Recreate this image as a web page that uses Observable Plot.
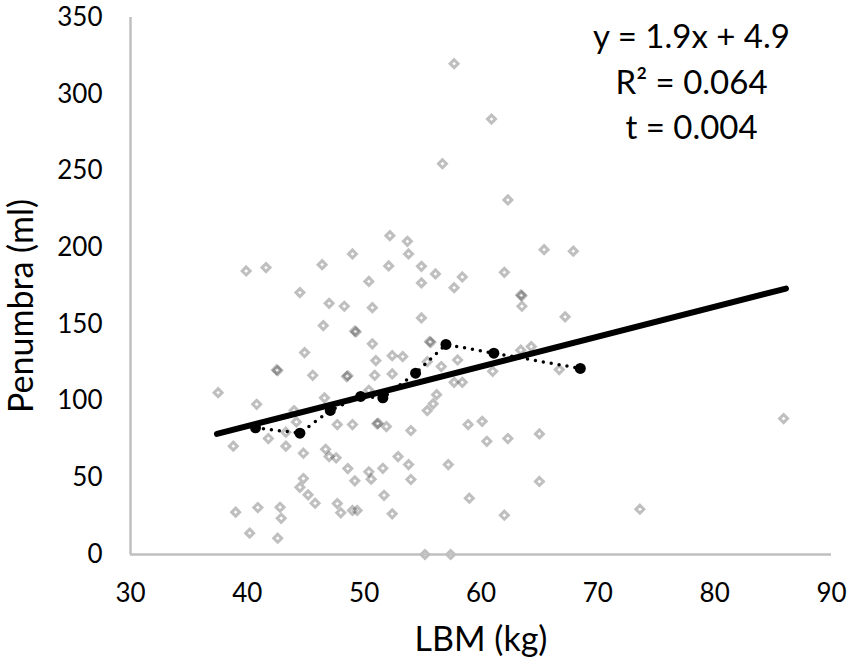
<!DOCTYPE html>
<html>
<head>
<meta charset="utf-8">
<script src="https://cdn.jsdelivr.net/npm/d3@7"></script>
<script src="https://cdn.jsdelivr.net/npm/@observablehq/plot@0.6"></script>
<style>
  html, body { margin: 0; padding: 0; background: #fff; }
  #chart { width: 854px; height: 671px; }
</style>
</head>
<body>
<div id="chart"></div>
<script>
// LBM (kg) and Penumbra (ml) of individual patients
const lbm = [39.9, 41.6, 46.4, 49.0, 44.5, 50.4, 47.0, 48.3, 50.7, 46.5, 49.3, 49.2, 50.7, 44.9,
  56.7, 62.3, 52.2, 53.7, 53.8, 52.1, 54.9, 56.1, 54.9, 58.4, 57.7, 62.0, 65.4, 67.9, 63.5, 63.4,
  63.5, 67.2, 54.9, 55.7, 55.6, 64.3, 63.4, 57.7, 60.9, 42.6, 42.5, 45.6, 48.5, 48.6, 50.9, 51.0,
  37.5, 40.8, 46.6, 50.4, 44.0, 44.2, 43.3, 41.8, 47.7, 49.0, 51.2, 51.1, 38.8, 43.3, 44.8, 46.7,
  47.0, 47.6, 48.6, 49.2, 50.4, 50.6, 44.8, 44.5, 45.2, 45.8, 47.7, 48.0, 49.0, 49.4, 39.0, 40.9,
  42.8, 42.9, 40.2, 42.6, 52.4, 53.3, 52.4, 55.4, 56.6, 58.0, 61.0, 66.7, 58.4, 57.7, 56.2, 55.9,
  55.4, 51.9, 54.0, 58.9, 60.1, 60.5, 62.3, 65.0, 52.9, 53.8, 51.6, 57.2, 54.0, 65.0, 51.7, 59.0,
  52.4, 62.0, 55.2, 57.4, 73.6, 85.9];
const penumbra = [184.8, 187.0, 188.9, 195.9, 170.7, 178.0, 163.7, 161.8, 160.9, 149.2, 145.1, 145.6, 137.3, 131.6,
  254.7, 231.1, 207.8, 204.1, 195.9, 188.1, 187.8, 182.9, 177.0, 180.9, 173.9, 183.9, 198.7, 197.7, 168.7, 169.1,
  161.8, 154.9, 154.2, 138.3, 138.8, 135.5, 133.2, 319.9, 283.8, 119.9, 120.3, 116.8, 116.0, 116.5, 116.8, 126.4,
  105.5, 97.9, 102.1, 107.0, 93.8, 86.4, 79.7, 75.6, 84.7, 84.7, 85.5, 85.2, 70.6, 70.6, 66.0, 68.6,
  63.8, 63.0, 56.0, 48.0, 53.9, 49.1, 49.5, 43.8, 38.9, 33.4, 33.2, 27.2, 28.7, 28.7, 27.6, 30.6,
  30.8, 23.6, 13.9, 10.6, 129.6, 129.0, 117.7, 125.7, 122.5, 126.8, 119.4, 120.5, 112.2, 112.2, 104.2, 98.2,
  93.8, 83.4, 80.8, 84.7, 86.8, 73.8, 75.6, 78.6, 63.8, 58.6, 56.2, 58.6, 48.9, 47.6, 38.6, 36.7,
  26.5, 25.6, 0, 0, 29.5, 88.6];

// binned means (connected by dotted line)
const meanLbm = [40.7, 44.5, 47.1, 49.7, 51.6, 54.4, 57.0, 61.1, 68.5];
const meanPenumbra = [82.6, 79.1, 93.9, 103.0, 102.1, 118.2, 136.9, 131.2, 121.3];

// linear trend line end points
const trendLbm = [37.4, 86.1];
const trendPenumbra = [78.6, 173.3];

const xTicks = [30, 40, 50, 60, 70, 80, 90];
const yTicks = [0, 50, 100, 150, 200, 250, 300, 350];
const statLines = ["y = 1.9x + 4.9", "R\u00B2 = 0.064", "t = 0.004"];
const xTitle = "LBM (kg)";
const yTitle = "Penumbra (ml)";

const points = lbm.map((x, i) => ({x, y: penumbra[i]}));
const means = meanLbm.map((x, i) => ({x, y: meanPenumbra[i]}));
const trend = trendLbm.map((x, i) => ({x, y: trendPenumbra[i]}));

const axisColor = "#bfbfbf";

const chart = Plot.plot({
  width: 854,
  height: 671,
  marginLeft: 130,
  marginRight: 23,
  marginTop: 17,
  marginBottom: 117,
  style: {fontFamily: "Lato, 'Open Sans', sans-serif", color: "#000", background: "#fff"},
  x: {domain: [30, 90]},
  y: {domain: [0, 350]},
  marks: [
    Plot.axisX({ticks: xTicks, tickSize: 0, tickPadding: 29, fontSize: 26, tickFormat: d => String(d), label: null}),
    Plot.axisY({ticks: yTicks, tickSize: 0, tickPadding: 28, fontSize: 26, tickFormat: d => String(d), label: null}),
    Plot.dot(points, {x: "x", y: "y", symbol: "diamond2", r: 3.6, stroke: "#000", strokeOpacity: 0.25, strokeWidth: 3, fill: "none"}),
    Plot.line(trend, {x: "x", y: "y", stroke: "#000", strokeWidth: 6, strokeLinecap: "round"}),
    Plot.line(means, {x: "x", y: "y", stroke: "#000", strokeWidth: 3.5, strokeLinecap: "round", strokeDasharray: "0 8"}),
    Plot.dot(means, {x: "x", y: "y", r: 5.5, fill: "#000", stroke: "none"}),
    Plot.ruleX([30], {y1: 0, y2: 350, stroke: axisColor, strokeWidth: 2.5}),
    Plot.ruleY([0], {x1: 30, x2: 90, stroke: axisColor, strokeWidth: 2.5}),
    ...statLines.map((t, i) => Plot.text([t], {frameAnchor: "top-right", dx: -140, dy: 20 + 45.5 * i, textAnchor: "middle", lineAnchor: "middle", fontSize: 33, fill: "#000"})),
    Plot.text([xTitle], {frameAnchor: "bottom", dy: 86, textAnchor: "middle", lineAnchor: "middle", fontSize: 34, fill: "#000"}),
    Plot.text([yTitle], {frameAnchor: "left", dx: -108, dy: 20, rotate: -90, textAnchor: "middle", lineAnchor: "middle", fontSize: 34, fill: "#000"})
  ]
});
document.getElementById("chart").appendChild(chart);
</script>
</body>
</html>
